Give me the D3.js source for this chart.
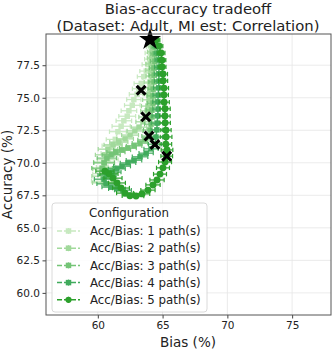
<!DOCTYPE html>
<html><head><meta charset="utf-8">
<script src="https://cdn.jsdelivr.net/npm/d3@7"></script>
<style>body{margin:0;background:#fff}svg{display:block}text{font-family:"DejaVu Sans",sans-serif}</style>
</head><body><svg id="c" width="332" height="351"></svg>
<script>
// ---- data (bias %, accuracy %, bias error) ----
const seriesNames = ["Acc/Bias: 1 path(s)","Acc/Bias: 2 path(s)","Acc/Bias: 3 path(s)","Acc/Bias: 4 path(s)","Acc/Bias: 5 path(s)"];
const seriesColors = ["#c7e9c0","#a1d99b","#74c476","#41ab5d","#2ca02c"];
const xTicks = [60,65,70,75];
const yTicks = [60,62.5,65,67.5,70,72.5,75,77.5];

const s1Bias = [64.18,64.11,64.05,64.01,63.87,63.74,63.55,63.35,63.17,63.03,62.78,62.66,62.40,62.27,62.01,61.80,61.55,61.35,61.08,60.95,60.77,60.64,60.46,60.41];
const s1Acc  = [79.36,78.92,78.44,77.97,77.55,77.05,76.62,76.10,75.69,75.27,74.86,74.42,74.00,73.58,73.23,72.81,72.39,71.80,71.31,70.73,70.24,69.66,69.16,68.58];
const s1Err  = [0.30,0.35,0.40,0.40,0.45,0.50,0.50,0.55,0.50,0.60,0.55,0.60,0.60,0.65,0.60,0.70,0.65,0.70,0.75,0.70,0.80,0.75,0.85,0.90];

const s2Bias = [64.26,64.25,64.18,64.17,64.11,64.10,64.12,64.03,64.04,63.95,63.96,63.87,63.81,63.72,63.49,63.18,62.86,62.49,62.10,61.62,61.18,60.78,60.56,60.47,60.41,60.39,60.49];
const s2Acc  = [79.44,78.97,78.53,78.05,77.60,77.12,76.68,76.20,75.76,75.28,74.84,74.36,73.99,73.52,73.15,72.74,72.45,72.13,71.84,71.59,71.38,71.05,70.61,70.05,69.53,68.97,68.46];
const s2Err  = [0.30,0.30,0.35,0.35,0.40,0.40,0.40,0.45,0.45,0.45,0.50,0.50,0.50,0.55,0.55,0.60,0.60,0.65,0.65,0.70,0.70,0.75,0.75,0.80,0.80,0.85,0.90];

const s3Bias = [64.34,64.42,64.40,64.41,64.33,64.35,64.34,64.27,64.25,64.26,64.18,64.19,64.11,64.03,63.95,63.64,63.25,62.80,62.32,61.88,61.40,61.03,60.70,60.49,60.33];
const s3Acc  = [79.44,78.90,78.37,77.81,77.29,76.74,76.22,75.66,75.14,74.59,74.06,73.53,72.97,72.52,72.05,71.76,71.51,71.30,71.13,70.99,70.82,70.61,70.36,69.99,69.59];
const s3Err  = [0.30,0.30,0.30,0.35,0.35,0.40,0.40,0.40,0.45,0.45,0.45,0.50,0.50,0.50,0.55,0.55,0.60,0.60,0.65,0.65,0.70,0.70,0.75,0.80,0.80];

const s4Bias = [64.41,64.57,64.65,64.72,64.73,64.71,64.72,64.70,64.66,64.64,64.65,64.63,64.57,64.56,64.49,64.41,64.11,63.73,63.26,62.79,62.33,61.87,61.47,61.09,60.71,60.48,60.63,61.02,61.48,61.94];
const s4Acc  = [79.44,78.98,78.43,77.91,77.35,76.84,76.28,75.76,75.20,74.68,74.13,73.61,73.05,72.53,71.98,71.43,71.07,70.74,70.46,70.20,69.99,69.74,69.53,69.28,69.06,68.74,68.38,68.13,68.00,67.90];
const s4Err  = [0.30,0.30,0.30,0.30,0.35,0.35,0.35,0.40,0.40,0.40,0.40,0.45,0.45,0.45,0.50,0.50,0.55,0.55,0.60,0.60,0.60,0.65,0.65,0.70,0.70,0.75,0.70,0.70,0.65,0.65];

const s5Bias = [64.49,64.72,64.88,64.95,64.96,65.03,65.04,65.11,65.10,65.12,65.19,65.18,65.20,65.26,65.27,65.25,65.34,65.32,65.19,65.03,64.80,64.57,64.26,63.87,63.41,62.95,62.48,62.10,61.79,61.48,61.17,60.86,60.55];
const s5Acc  = [79.44,78.97,78.44,77.89,77.37,76.82,76.30,75.74,75.22,74.66,74.15,73.59,73.07,72.51,71.99,71.43,70.99,70.51,70.06,69.61,69.13,68.68,68.30,67.90,67.61,67.45,67.46,67.67,68.06,68.45,68.82,69.15,69.36];
const s5Err  = [0.30,0.30,0.30,0.30,0.30,0.35,0.35,0.35,0.35,0.40,0.40,0.40,0.40,0.40,0.45,0.45,0.45,0.45,0.50,0.50,0.50,0.55,0.55,0.55,0.60,0.60,0.60,0.65,0.65,0.65,0.70,0.70,0.70];

const starPoint = [64.03,79.47];
const xBias = [63.34,63.70,63.95,64.41,65.32];
const xAcc  = [75.58,73.53,72.05,71.41,70.51];

const allBias=[s1Bias,s2Bias,s3Bias,s4Bias,s5Bias], allAcc=[s1Acc,s2Acc,s3Acc,s4Acc,s5Acc], allErr=[s1Err,s2Err,s3Err,s4Err,s5Err];
const markerTypes=["sq","sq","sq","sq","ci"];

const svg=d3.select("#c");
const L=46,R=331,T=34,B=315;
const x=d3.scaleLinear().domain([56,78]).range([L,R]);
const y=d3.scaleLinear().domain([58.3,79.9]).range([B,T]);

const g=svg.append("g");
g.selectAll(".gx").data(xTicks).join("line").attr("x1",d=>x(d)).attr("x2",d=>x(d)).attr("y1",T).attr("y2",B).attr("stroke","#e6e6e6").attr("stroke-width",0.8);
g.selectAll(".gy").data(yTicks).join("line").attr("y1",d=>y(d)).attr("y2",d=>y(d)).attr("x1",L).attr("x2",R).attr("stroke","#e6e6e6").attr("stroke-width",0.8);

const xa=svg.append("g").attr("transform",`translate(0,${B})`).call(d3.axisBottom(x).tickValues(xTicks).tickFormat(d3.format("d")).tickSize(3.5).tickPadding(3));
const ya=svg.append("g").attr("transform",`translate(${L},0)`).call(d3.axisLeft(y).tickValues(yTicks).tickFormat(d3.format(".1f")).tickSize(3.5).tickPadding(2.5));
[xa,ya].forEach(a=>{a.select(".domain").remove();a.selectAll("text").attr("font-size","10.5px").attr("fill","#222").attr("font-family","DejaVu Sans");a.selectAll("line").attr("stroke","#444");});

const cg=svg.append("g");
allBias.forEach((bs,si)=>{
  const pts=bs.map((b,i)=>({b,a:allAcc[si][i],e:allErr[si][i]}));
  const col=seriesColors[si];
  const sg=cg.append("g");
  sg.append("path").datum(pts).attr("d",d3.line().x(d=>x(d.b)).y(d=>y(d.a))).attr("fill","none").attr("stroke",col).attr("stroke-width",1.5).attr("stroke-dasharray","5,2");
  pts.forEach(p=>{
    const x0=x(p.b-p.e),x1=x(p.b+p.e),yy=y(p.a);
    sg.append("line").attr("x1",x0).attr("x2",x1).attr("y1",yy).attr("y2",yy).attr("stroke",col).attr("stroke-width",1.2);
    [x0,x1].forEach(xx=>sg.append("line").attr("x1",xx).attr("x2",xx).attr("y1",yy-2.2).attr("y2",yy+2.2).attr("stroke",col).attr("stroke-width",1.2));
    sg.append("line").attr("x1",x(p.b)).attr("x2",x(p.b)).attr("y1",y(p.a+0.15)).attr("y2",y(p.a-0.15)).attr("stroke",col).attr("stroke-width",1.2);
  });
  sg.selectAll("path.m").data(pts).join("path").attr("class","m")
    .attr("d",d3.symbol().type(markerTypes[si]==="ci"?d3.symbolCircle:d3.symbolSquare).size(markerTypes[si]==="ci"?38:30))
    .attr("transform",d=>`translate(${x(d.b)},${y(d.a)})`).attr("fill",col);
});
svg.append("path").attr("d",d3.symbol().type(d3.symbolStar).size(150)).attr("transform",`translate(${x(starPoint[0])},${y(starPoint[1])})`).attr("fill","#000");
const xPath="M-5.5,-3.3L-3.3,-5.5L0,-2.2L3.3,-5.5L5.5,-3.3L2.2,0L5.5,3.3L3.3,5.5L0,2.2L-3.3,5.5L-5.5,3.3L-2.2,0Z";
svg.selectAll("path.xm").data(xBias).join("path").attr("class","xm").attr("d",xPath).attr("transform",(d,i)=>`translate(${x(d)},${y(xAcc[i])})`).attr("fill","#000");

svg.append("rect").attr("x",L).attr("y",T).attr("width",R-L).attr("height",B-T).attr("fill","none").attr("stroke","#555").attr("stroke-width",1);

const lg=svg.append("g");
lg.append("rect").attr("x",52).attr("y",203).attr("width",155).attr("height",109).attr("rx",3).attr("fill","#fff").attr("fill-opacity",0.85).attr("stroke","#d0d0d0").attr("stroke-width",0.8);
lg.append("text").attr("x",129).attr("y",217).attr("text-anchor","middle").attr("font-size","11.8px").attr("fill","#222").text("Configuration");
seriesNames.forEach((n,i)=>{
  const yy=231+i*17.2, col=seriesColors[i];
  lg.append("line").attr("x1",57).attr("x2",80).attr("y1",yy).attr("y2",yy).attr("stroke",col).attr("stroke-width",1.5).attr("stroke-dasharray","5,2");
  lg.append("line").attr("x1",68.5).attr("x2",68.5).attr("y1",yy-3).attr("y2",yy+3).attr("stroke",col).attr("stroke-width",1.2);
  lg.append("path").attr("d",d3.symbol().type(markerTypes[i]==="ci"?d3.symbolCircle:d3.symbolSquare).size(30)).attr("transform",`translate(68.5,${yy})`).attr("fill",col);
  lg.append("text").attr("x",90).attr("y",yy+4.2).attr("font-size","11.8px").attr("fill","#222").text(n);
});

svg.append("text").attr("x",188).attr("y",14).attr("text-anchor","middle").attr("font-size","14.8px").attr("fill","#222").text("Bias-accuracy tradeoff");
svg.append("text").attr("x",188).attr("y",31).attr("text-anchor","middle").attr("font-size","14.8px").attr("fill","#222").text("(Dataset: Adult, MI est: Correlation)");
svg.append("text").attr("x",188).attr("y",347).attr("text-anchor","middle").attr("font-size","13.5px").attr("fill","#222").text("Bias (%)");
svg.append("text").attr("transform","translate(12,174.5) rotate(-90)").attr("text-anchor","middle").attr("font-size","13.5px").attr("fill","#222").text("Accuracy (%)");
</script></body></html>
